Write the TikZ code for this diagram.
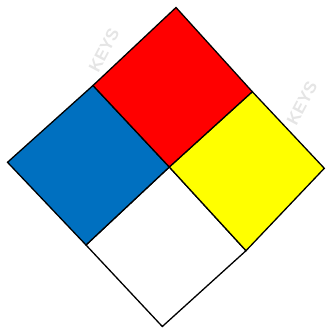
\documentclass[tikz,border=0pt]{standalone}
\usepackage{fontspec}
\setmainfont{Liberation Sans}
\definecolor{nfpablue}{HTML}{0070C0}
\definecolor{nfpared}{HTML}{FF0000}
\definecolor{nfpayellow}{HTML}{FFFF00}
\begin{document}
\begin{tikzpicture}[x=1pt,y=-1pt,
  quad/.style={draw=black,line width=1.3pt,line join=miter},
  wmark/.style={text=black!10,font=\bfseries\fontsize{17}{17}\selectfont,rotate=62,inner sep=0pt}]
\useasboundingbox (0,0) rectangle (325,328);
% watermarks
\node[wmark] (w1) at (104,50) {KEYS};
\node[wmark] (w2) at (302,103) {KEYS};
% vertices
\coordinate (T) at (176,7.5);
\coordinate (L) at (7.5,162.3);
\coordinate (B) at (162.3,326.5);
\coordinate (R) at (324.3,168.3);
\coordinate (C) at (169.3,167);
\coordinate (TL) at (93,85.5);
\coordinate (TR) at (252.3,91.7);
\coordinate (BL) at (86,245);
\coordinate (BR) at (246,250.7);
% quadrants
\filldraw[quad,fill=white] (C) -- (BR) -- (B) -- (BL) -- cycle;
\filldraw[quad,fill=nfpablue] (TL) -- (C) -- (BL) -- (L) -- cycle;
\filldraw[quad,fill=nfpayellow] (TR) -- (R) -- (BR) -- (C) -- cycle;
\filldraw[quad,fill=nfpared] (T) -- (TR) -- (C) -- (TL) -- cycle;
\end{tikzpicture}
\end{document}
